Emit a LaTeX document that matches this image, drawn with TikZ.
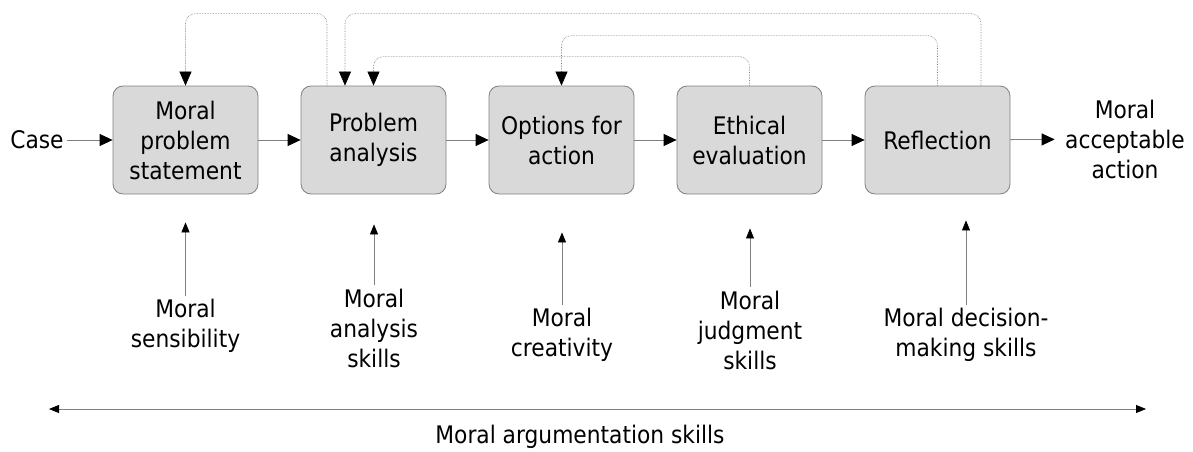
\documentclass[tikz,border=0pt]{standalone}
\usepackage{fontspec}
\setmainfont{DejaVu Sans Condensed}
\usetikzlibrary{arrows.meta, positioning}
\usepackage{xcolor}
\def\boxsep{188pt}

\begin{document}
\begin{tikzpicture}[x=1pt,y=-1pt,font=\fontsize{24.2}{30}\selectfont, node distance=\boxsep]
    \tikzstyle{phase}=[rectangle, rounded corners=10pt, draw=black!50, line width=0.8pt, fill=black!15, minimum width=145pt, minimum height=108pt, align=center, inner sep=0pt]
    \tikzstyle{flow}=[draw=black!50, line width=0.8pt, -{Triangle[length=13pt,width=12pt,color=black]}]
    \tikzstyle{loop}=[draw=black!50, line width=0.6pt, densely dotted, rounded corners=10pt, -{Triangle[length=14pt,width=12pt,color=black]}]
    \tikzstyle{skill}=[draw=black!50, line width=0.8pt, -{Triangle[length=10pt,width=8pt,color=black]}]
    \tikzstyle{annot}=[align=center]

    \useasboundingbox (0,0) rectangle (1193,452);

    % the five phases
    \node[phase] (P-1) at (185.5,140) {Moral\\problem\\statement};
    \node[phase, right of=P-1] (P-2) {Problem\\analysis};
    \node[phase, right of=P-2] (P-3) {Options for\\action};
    \node[phase, right of=P-3] (P-4) {Ethical\\evaluation};
    \node[phase, right of=P-4] (P-5) {Reflection};

    \node[annot] (case) at (37,140) {Case};
    \node[annot] (act) at (1125,139) {Moral\\acceptable\\action};

    \draw[flow] (case) -- (P-1);
    \foreach \a/\b in {1/2,2/3,3/4,4/5}
        \draw[flow] (P-\a) -- (P-\b);
    \draw[flow, shorten >=7pt] (P-5) -- (act);

    % going back to an earlier phase
    \draw[loop] ([xshift=-46.5pt]P-2.north) -- ++(0,-72) -| (P-1.north);
    \draw[loop] ([xshift=43.5pt]P-5.north) -- ++(0,-72) -| ([xshift=-28.5pt]P-2.north);
    \draw[loop] (P-5.north) -- ++(0,-50) -| (P-3.north);
    \draw[loop] (P-4.north) -- ++(0,-29) -| (P-2.north);

    % skills under each phase
    \node[annot] (S-1) at (185.5,326) {Moral\\sensibility};
    \node[annot] (S-2) at (374,328) {Moral\\analysis\\skills};
    \node[annot] (S-3) at (562,335) {Moral\\creativity};
    \node[annot] (S-4) at (750,330) {Moral\\judgment\\skills};
    \node[annot] (S-5) at (966,335) {Moral decision-\\making skills};

    \draw[skill, shorten >=28pt] (S-1.north) -- (S-1.north |- P-1.south);
    \draw[skill, shorten >=30pt] (S-2.north) -- (S-2.north |- P-2.south);
    \draw[skill, shorten >=38pt] (S-3.north) -- (S-3.north |- P-3.south);
    \draw[skill, shorten >=34pt] (S-4.north) -- (S-4.north |- P-4.south);
    \draw[skill, shorten >=26pt] (S-5.north) -- (S-5.north |- P-5.south);

    \coordinate (arg-L) at (49,409);
    \coordinate (arg-R) at (1146,409);
    \draw[skill, {Triangle[length=10pt,width=8pt,color=black]}-{Triangle[length=10pt,width=8pt,color=black]}] (arg-L) -- (arg-R);
    \node[annot] (arg) at (580,437) {Moral argumentation skills};
\end{tikzpicture}
\end{document}
